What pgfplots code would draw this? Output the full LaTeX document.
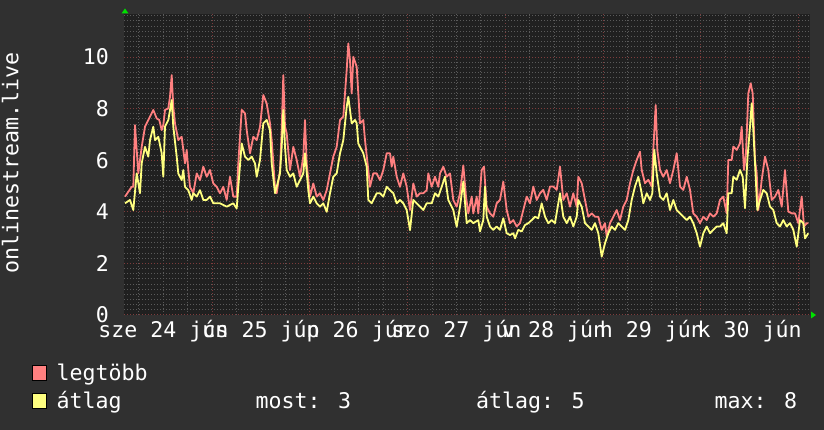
\documentclass[border=0pt]{standalone}
\usepackage{fontspec}
\setmainfont{DejaVu Sans Mono}
\usepackage{pgfplots}
\pgfplotsset{compat=1.18}
\definecolor{canvas}{HTML}{303030}
\definecolor{plotbg}{HTML}{202020}
\definecolor{gridminor}{HTML}{5A5A5A}
\definecolor{gridmajor}{HTML}{7E3C3C}
\definecolor{maxline}{HTML}{FF8080}
\definecolor{avgline}{HTML}{FFFF80}
\definecolor{arrowgreen}{HTML}{00E000}
\newcommand{\rrdfont}{\fontsize{21.6}{26}\selectfont}
\begin{document}
\begin{tikzpicture}
\fill[canvas] (0pt,0pt) rectangle (824pt,430pt);
\begin{axis}[
  at={(124pt,115pt)}, anchor=south west,
  width=686pt, height=301pt, scale only axis,
  xmin=124, xmax=810, ymin=0, ymax=11.67,
  axis background/.style={fill=plotbg},
  axis line style={draw=none},
  xtick={212.2,309.9,407.6,505.3,603.0,700.7,798.4},
  xticklabels={{},{},{},{},{},{},{}},
  minor xtick={138.93,163.35,187.78,236.63,261.05,285.48,334.33,358.75,383.18,432.03,456.45,480.88,529.73,554.15,578.58,627.43,651.85,676.28,725.13,749.55,773.98},
  ytick={0,2,4,6,8,10},
  minor ytick={0.2,0.4,...,11.6},
  grid=both,
  major grid style={gridmajor, line width=1pt, dash pattern=on 1pt off 2pt},
  minor grid style={gridminor, line width=1pt, dash pattern=on 1pt off 2pt},
  major tick length=0pt, minor tick length=0pt,
  tick style={draw=none},
  extra x ticks={163.35,261.05,358.75,456.45,554.15,651.85,749.55},
  extra x tick labels={sze 24 jún,cs 25 jún,p 26 jún,szo 27 jún,v 28 jún,h 29 jún,k 30 jún},
  extra x tick style={grid=none, xticklabel style={anchor=base, yshift=-23pt}},
  ticklabel style={font=\rrdfont, text=white},
  /pgf/number format/assume math mode=true,
  yticklabel style={anchor=east, inner sep=0pt, xshift=-15pt},
]
\addplot[maxline, line width=1.8pt, line join=round] coordinates {
(125.0,4.59) (131.7,4.97) (133.3,4.97) (135.0,7.36) (138.3,5.49) (141.7,6.52) (145.0,7.30) (150.0,7.69) (153.3,7.95) (156.7,7.62) (159.3,7.56) (161.7,7.17) (163.3,7.36) (165.0,7.95) (168.3,8.01) (170.0,8.46) (171.7,9.30) (173.3,8.07) (175.0,7.43) (178.3,6.78) (181.7,6.91) (183.3,6.40) (185.0,5.88) (186.7,6.40) (188.3,5.62) (190.0,4.97) (193.3,4.72) (196.7,5.49) (200.0,5.23) (203.3,5.75) (206.7,5.36) (210.0,5.62) (213.3,5.10) (216.7,4.97) (220.0,4.72) (223.3,4.97) (226.7,4.46) (230.0,5.36) (233.3,4.59) (236.7,4.59) (238.3,5.88) (241.7,7.95) (245.0,7.82) (246.7,7.17) (250.0,6.27) (253.3,6.91) (256.7,6.78) (260.0,7.30) (263.3,8.53) (266.7,8.20) (270.0,7.43) (271.7,6.78) (275.0,4.97) (276.7,4.72) (280.0,5.62) (281.7,7.17) (283.3,9.30) (285.0,7.30) (286.7,7.04) (290.0,5.62) (293.3,6.52) (296.7,6.01) (300.0,5.36) (303.3,6.14) (305.0,7.56) (306.7,5.88) (310.0,4.59) (313.3,5.10) (316.7,4.59) (320.0,4.72) (323.3,4.46) (326.7,4.84) (330.0,5.49) (333.3,6.14) (336.7,6.52) (340.0,7.56) (343.3,7.69) (346.7,9.50) (348.3,10.53) (350.0,9.88) (351.7,8.59) (353.3,10.01) (356.7,9.62) (358.3,8.59) (360.0,7.43) (363.3,7.56) (365.0,6.78) (368.3,5.62) (370.0,4.97) (373.3,5.49) (376.7,5.49) (380.0,5.23) (383.3,5.62) (386.7,6.27) (390.0,6.27) (391.7,5.75) (393.3,6.14) (396.7,5.36) (400.0,4.97) (403.3,5.49) (406.7,4.97) (410.0,4.07) (413.3,5.10) (416.7,4.59) (420.0,4.72) (423.3,4.72) (426.7,4.84) (428.3,5.49) (431.7,4.97) (435.0,5.36) (438.3,4.97) (440.0,5.49) (443.3,5.75) (446.7,5.36) (450.0,5.49) (453.3,4.46) (456.7,4.20) (460.0,4.72) (463.3,5.80) (466.0,4.59) (468.3,3.94) (471.7,4.59) (473.3,3.94) (476.7,4.59) (478.3,3.94) (481.7,5.62) (484.0,5.75) (486.7,4.20) (490.0,3.94) (493.3,3.81) (496.7,4.33) (500.0,4.46) (503.3,5.17) (506.7,4.07) (510.0,3.56) (513.3,3.68) (516.7,3.43) (520.0,3.56) (523.3,4.07) (526.7,4.59) (530.0,4.33) (533.3,4.98) (536.7,4.46) (540.0,4.72) (543.3,4.85) (546.7,4.46) (550.0,4.98) (553.3,4.98) (556.7,4.85) (560.0,5.75) (563.3,4.46) (566.7,4.72) (570.0,4.20) (573.3,4.72) (576.7,4.20) (578.3,5.36) (581.7,5.11) (585.0,4.46) (588.3,3.81) (591.7,3.94) (595.0,3.81) (598.3,3.81) (601.7,3.30) (605.0,3.56) (606.7,3.04) (610.0,3.56) (613.3,3.81) (616.7,4.07) (620.0,3.68) (623.3,4.20) (626.7,4.46) (630.0,5.11) (633.3,5.62) (636.7,6.01) (640.0,6.33) (641.7,5.62) (645.0,5.11) (648.3,5.24) (651.7,4.98) (653.3,6.40) (655.7,8.14) (657.3,6.40) (660.0,5.62) (663.3,5.36) (666.7,5.62) (670.0,5.11) (673.3,5.62) (676.7,6.27) (680.0,4.98) (683.3,4.85) (686.7,5.36) (690.0,4.85) (693.3,3.94) (696.7,3.81) (700.0,3.56) (703.3,3.81) (706.7,3.68) (710.0,3.94) (713.3,3.81) (716.7,3.94) (720.0,4.46) (723.3,4.59) (726.7,3.94) (728.3,6.01) (731.7,6.01) (733.3,6.53) (736.7,6.40) (740.0,6.66) (741.7,7.30) (744.0,5.62) (746.0,6.27) (748.3,8.59) (750.7,8.98) (752.7,8.59) (755.0,6.01) (756.7,5.49) (758.3,4.07) (761.7,5.24) (765.0,6.14) (768.3,5.62) (771.7,4.46) (775.0,4.59) (778.3,4.85) (781.7,4.20) (785.0,5.62) (788.3,4.01) (791.7,3.94) (795.0,3.94) (798.3,3.56) (801.7,4.59) (804.0,3.43) (806.7,3.56) (808.3,3.56)
};
\addplot[avgline, line width=1.8pt, line join=round] coordinates {
(125.0,4.33) (130.0,4.46) (133.3,4.07) (136.7,5.49) (140.0,4.72) (141.7,5.88) (145.0,6.52) (148.3,6.14) (150.0,6.78) (153.3,7.30) (155.0,6.78) (158.3,6.91) (161.7,6.27) (163.3,5.36) (165.0,7.30) (168.3,7.56) (171.7,8.33) (173.3,7.30) (176.7,6.14) (178.3,5.49) (181.7,5.23) (183.3,5.62) (185.0,4.97) (188.3,4.84) (191.7,4.46) (193.3,4.72) (196.7,4.59) (200.0,4.84) (203.3,4.46) (206.7,4.46) (210.0,4.59) (213.3,4.33) (220.0,4.33) (226.7,4.20) (233.3,4.33) (236.7,4.13) (238.3,4.97) (241.7,6.65) (245.0,6.14) (248.3,6.01) (251.7,6.14) (255.0,5.88) (256.7,5.36) (260.0,6.01) (263.3,7.43) (266.7,7.56) (270.0,7.17) (271.7,5.88) (275.0,4.72) (276.7,4.97) (280.0,5.49) (281.7,6.52) (283.3,7.95) (285.0,6.52) (286.7,5.62) (290.0,5.36) (293.3,5.49) (296.7,4.97) (300.0,5.23) (303.3,5.49) (305.0,6.27) (308.3,4.84) (310.0,4.33) (313.3,4.59) (316.7,4.33) (320.0,4.20) (323.3,4.33) (326.7,4.00) (330.0,4.72) (333.3,5.36) (336.7,5.49) (340.0,6.27) (343.3,6.78) (346.7,8.07) (348.3,8.46) (350.0,7.95) (351.7,7.43) (355.0,7.56) (356.7,7.43) (358.3,6.65) (360.0,6.52) (363.3,6.27) (366.7,5.75) (368.3,4.46) (371.7,4.33) (376.7,4.72) (380.0,4.72) (383.3,4.59) (386.7,4.97) (390.0,4.84) (393.3,4.72) (396.7,4.33) (400.0,4.46) (403.3,4.33) (406.7,4.07) (410.0,3.29) (413.3,4.46) (416.7,4.33) (420.0,4.20) (423.3,4.07) (426.7,4.33) (431.7,4.33) (435.0,4.72) (438.3,4.59) (441.7,4.97) (445.0,5.36) (448.3,4.46) (450.0,4.33) (453.3,4.07) (456.7,3.42) (460.0,4.20) (463.3,5.17) (466.7,3.56) (470.0,3.68) (473.3,3.56) (478.3,3.68) (480.0,3.24) (483.3,3.68) (485.0,4.98) (486.7,3.81) (490.0,3.43) (493.3,3.30) (496.7,3.43) (500.0,3.30) (503.3,3.75) (506.7,3.17) (510.0,3.10) (513.3,3.17) (515.0,2.97) (518.3,3.30) (521.7,3.24) (525.0,3.49) (528.3,3.56) (531.7,3.68) (535.0,3.81) (538.3,3.75) (541.7,4.33) (545.0,3.81) (548.3,3.56) (551.7,3.68) (555.0,3.56) (558.3,4.33) (560.0,4.72) (563.3,3.81) (566.7,3.56) (570.0,3.81) (573.3,3.43) (576.7,3.81) (578.3,4.46) (581.7,4.20) (585.0,3.56) (588.3,3.43) (591.7,3.30) (595.0,3.56) (598.3,3.17) (601.7,2.26) (605.0,2.78) (608.3,3.17) (611.7,3.43) (615.0,3.30) (618.3,3.56) (621.7,3.43) (625.0,3.30) (628.3,3.68) (631.7,4.46) (635.0,4.98) (638.3,5.36) (641.7,4.72) (643.3,4.33) (646.7,4.72) (650.0,4.46) (652.3,4.72) (654.3,6.40) (656.7,5.49) (660.0,4.59) (663.3,4.46) (666.7,4.72) (670.0,4.07) (673.3,4.46) (676.7,4.07) (680.0,3.94) (683.3,3.81) (686.7,3.68) (690.0,3.81) (693.3,3.56) (696.7,3.17) (700.0,2.65) (703.3,3.17) (706.7,3.43) (710.0,3.17) (713.3,3.30) (716.7,3.43) (720.0,3.43) (723.3,3.56) (726.7,3.17) (728.3,4.72) (731.7,4.72) (733.3,5.36) (736.7,5.24) (740.0,5.62) (742.7,5.36) (745.0,4.14) (747.3,6.01) (750.0,7.30) (751.7,8.21) (753.3,7.17) (755.0,5.88) (757.3,4.07) (760.0,4.46) (763.3,4.85) (766.7,4.72) (770.0,4.20) (773.3,4.07) (776.7,3.56) (780.0,3.43) (783.3,3.68) (786.7,3.43) (790.0,3.56) (793.3,3.30) (796.7,2.65) (800.0,3.68) (803.3,3.56) (805.0,2.97) (808.3,3.17)
};
\end{axis}
\fill[arrowgreen] (121.5pt,416.5pt) -- (128.5pt,416.5pt) -- (125pt,421.5pt) -- cycle;
\fill[arrowgreen] (811pt,111.5pt) -- (811pt,118.5pt) -- (816pt,115pt) -- cycle;
\node[rotate=90, anchor=base, inner sep=0pt, text=white, font=\rrdfont] at (18.3pt,267pt) {onlinestream.live};
\draw[black, fill=maxline, line width=1pt] (32.5pt,49.5pt) rectangle (46.5pt,64.5pt);
\draw[black, fill=avgline, line width=1pt] (32.5pt,21.5pt) rectangle (46.5pt,36.5pt);
\begin{scope}[every node/.style={anchor=base west, inner sep=0pt, text=white, font=\rrdfont}]
\node at (56.5pt,49pt) {legtöbb};
\node at (56.5pt,21.5pt) {átlag};
\node at (255.5pt,21.5pt) {most: 3};
\node at (476pt,21.5pt) {átlag: 5};
\node at (714.5pt,21.5pt) {max: 8};
\end{scope}
\end{tikzpicture}
\end{document}
